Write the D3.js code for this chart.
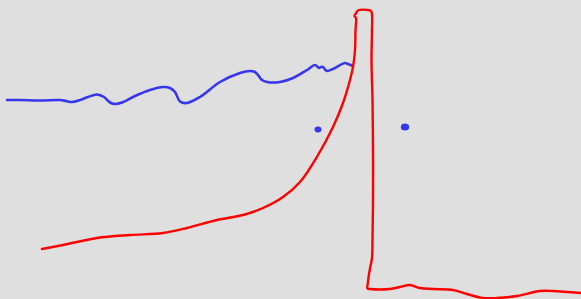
<!DOCTYPE html>
<html>
<head>
<meta charset="utf-8">
<script src="https://cdn.jsdelivr.net/npm/d3@7"></script>
<style>
  html, body { margin: 0; padding: 0; background: #dfdfdf; }
  svg { display: block; }
</style>
</head>
<body>
<div id="chart"></div>
<script>
'use strict';

// sketch strokes, in the sketch's own x/y units
var blueX = [7, 20, 40, 60, 66, 72, 80, 88, 97, 104, 110, 115, 122, 135, 150, 163, 170, 175, 180, 187, 200, 220, 240, 250, 255, 258, 262, 267, 280, 293, 307, 315, 319, 321, 323, 325, 327, 333, 345, 348, 353];
var blueY = [100, 100, 100.5, 100, 101, 102, 100, 97, 94.5, 97, 102.5, 104, 102.5, 96, 90, 87, 88, 92, 101.5, 103, 97, 82, 73, 71, 72, 75, 80, 82, 82, 78, 70, 65, 68, 67, 67, 69.5, 71, 69, 63, 64, 66];

var redX = [42, 63, 97, 130, 163, 187, 217, 243, 263, 283, 300, 318, 333, 343, 350, 353, 355, 355.5, 356, 354.5, 356.5, 358, 368, 371, 372, 372, 371.5, 372.5, 373, 373, 372.5, 372, 370.5, 369, 368, 367.5, 370, 390, 400, 410, 420, 433, 453, 467, 483, 497, 517, 540, 553, 581];
var redY = [249, 245, 238, 235, 233, 228, 220, 215, 208, 197, 182, 155, 127, 103, 80, 67, 50, 30, 18, 16, 12.5, 10.5, 10, 11, 14, 30, 60, 100, 150, 200, 240, 258, 266, 274, 282, 288.5, 289, 289, 287, 285, 288, 289, 290, 294, 298, 298, 296, 291, 291, 293];

var dotX = [318, 405];
var dotY = [129.5, 127];
var dotR = [3.5, 4.2];

var width = 581, height = 299;

var svg = d3.select('#chart').append('svg')
  .attr('width', width)
  .attr('height', height);

svg.append('rect')
  .attr('width', width)
  .attr('height', height)
  .attr('fill', '#dfdfdf');

var xScale = d3.scaleLinear().domain([0, 581]).range([0, width]);
var yScale = d3.scaleLinear().domain([0, 299]).range([0, height]);

var line = d3.line()
  .x(function(d) { return xScale(d[0]); })
  .y(function(d) { return yScale(d[1]); })
  .curve(d3.curveCatmullRom.alpha(0.5));

var bluePts = d3.zip(blueX, blueY);
var redPts = d3.zip(redX, redY);

svg.append('path')
  .datum(bluePts)
  .attr('d', line)
  .attr('fill', 'none')
  .attr('stroke', '#3636ee')
  .attr('stroke-width', 2.6)
  .attr('stroke-linecap', 'round')
  .attr('stroke-linejoin', 'round');

svg.append('path')
  .datum(redPts)
  .attr('d', line)
  .attr('fill', 'none')
  .attr('stroke', '#ff0000')
  .attr('stroke-width', 2.4)
  .attr('stroke-linecap', 'round')
  .attr('stroke-linejoin', 'round');

svg.selectAll('.dot')
  .data(d3.range(dotX.length))
  .enter()
  .append('ellipse')
  .attr('class', 'dot')
  .attr('cx', function(i) { return xScale(dotX[i]); })
  .attr('cy', function(i) { return yScale(dotY[i]); })
  .attr('rx', function(i) { return dotR[i]; })
  .attr('ry', function(i) { return dotR[i] * 0.85; })
  .attr('fill', '#3636ee');
</script>
</body>
</html>
